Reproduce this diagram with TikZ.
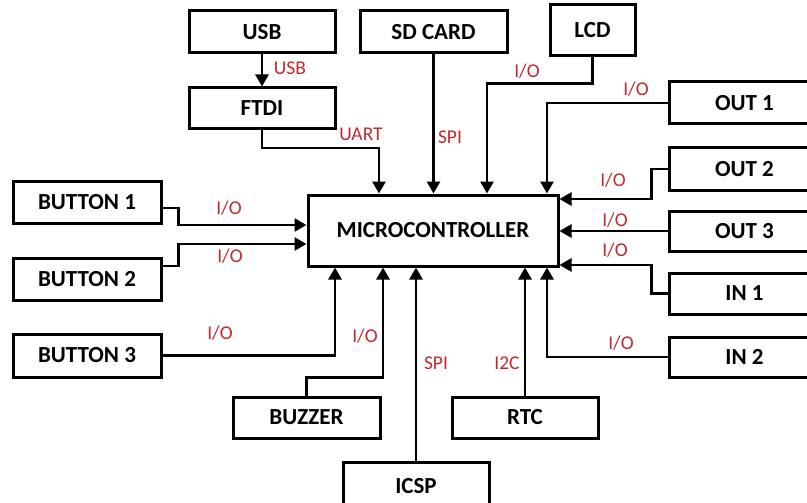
\documentclass[tikz,border=0pt]{standalone}
\usepackage{fontspec}
\setmainfont{Carlito}
\usetikzlibrary{arrows.meta}
\definecolor{lblred}{HTML}{C0282D}
\tikzset{
  box/.style={draw=black, line width=3pt, fill=white, font=\fontsize{23}{25}\selectfont\bfseries, inner sep=0pt},
  conn/.style={draw=black, line width=2.7pt, -{Triangle[length=12pt,width=13pt]}},
  lbl/.style={text=lblred, font=\fontsize{19.5}{21}\selectfont, inner sep=0pt}
}
\begin{document}
\begin{tikzpicture}[x=1pt,y=-1pt]
\useasboundingbox (0,0) rectangle (807,503);
\clip (0,0) rectangle (807,503);
% boxes
\node[box, minimum width=146pt, minimum height=42pt] (usb) at (262,32) {USB};
\node[box, minimum width=146pt, minimum height=41pt] (ftdi) at (262,108.5) {FTDI};
\node[box, minimum width=147pt, minimum height=42pt] (sd) at (433.5,32) {SD CARD};
\node[box, minimum width=85pt, minimum height=51pt] (lcd) at (592.5,30.5) {LCD};
\node[box, minimum width=250pt, minimum height=71pt] (mcu) at (433,230.5) {MICROCONTROLLER};
\node[box, minimum width=151pt, minimum height=42pt] (out1) at (744.5,103) {OUT 1};
\node[box, minimum width=151pt, minimum height=42pt] (out2) at (744.5,169) {OUT 2};
\node[box, minimum width=151pt, minimum height=40pt] (out3) at (744.5,231) {OUT 3};
\node[box, minimum width=151pt, minimum height=41pt] (in1) at (744.5,293.5) {IN 1};
\node[box, minimum width=151pt, minimum height=40pt] (in2) at (744.5,357) {IN 2};
\node[box, minimum width=148pt, minimum height=42pt] (b1) at (87,202) {BUTTON 1};
\node[box, minimum width=148pt, minimum height=42pt] (b2) at (87,279) {BUTTON 2};
\node[box, minimum width=148pt, minimum height=43pt] (b3) at (87,355.5) {BUTTON 3};
\node[box, minimum width=147pt, minimum height=41pt] (buz) at (306.5,417.5) {BUZZER};
\node[box, minimum width=146pt, minimum height=48pt] (icsp) at (416,486) {ICSP};
\node[box, minimum width=146pt, minimum height=41pt] (rtc) at (525,417.5) {RTC};
% connectors
\draw[conn] (usb.south) -- (ftdi.north);
\draw[conn] (ftdi.south) -- ++(0,17.5) -| ([xshift=-54pt]mcu.north);
\draw[conn] (sd.south) -- (sd.south |- mcu.north);
\draw[conn] (lcd.south) -- ++(0,26) -| ([xshift=54pt]mcu.north);
\draw[conn] (out1.west) -| ([xshift=114pt]mcu.north);
\draw[conn] (out2.west) -- ++(-16,0) |- ([yshift=31.5pt]mcu.east);
\draw[conn] (out3.west) -- (out3.west -| mcu.east);
\draw[conn] (in1.west) -- ++(-16,0) |- ([yshift=-34.5pt]mcu.east);
\draw[conn] (in2.west) -| ([xshift=114pt]mcu.south);
\draw[conn] (rtc.north) -- (rtc.north |- mcu.south);
\draw[conn] (icsp.north) -- (icsp.north |- mcu.south);
\draw[conn] (buz.north) -- ++(0,-18) -| ([xshift=-50pt]mcu.south);
\draw[conn] (b3.east) -| ([xshift=-98pt]mcu.south);
\draw[conn] ([yshift=-6pt]b1.east) -- ++(16,0) |- ([yshift=5.5pt]mcu.west);
\draw[conn] ([yshift=13pt]b2.east) -- ++(16,0) |- ([yshift=-13.5pt]mcu.west);
% labels
\node[lbl] (lusb) at (290,68) {USB};
\node[lbl] (luart) at (361,134) {UART};
\node[lbl] (lsd) at (450,137) {SPI};
\node[lbl] (llcd) at (527,71) {I/O};
\node[lbl] (lout1) at (636,89) {I/O};
\node[lbl] (lout2) at (613,180) {I/O};
\node[lbl] (lout3) at (615,220) {I/O};
\node[lbl] (lin1) at (615,250) {I/O};
\node[lbl] (lin2) at (621,343) {I/O};
\node[lbl] (licsp) at (436,363) {SPI};
\node[lbl] (lrtc) at (507,363) {I2C};
\node[lbl] (lb1) at (229,208) {I/O};
\node[lbl] (lb2) at (230,256) {I/O};
\node[lbl] (lb3) at (220,333) {I/O};
\node[lbl] (lbuz) at (365,336) {I/O};
\end{tikzpicture}
\end{document}
